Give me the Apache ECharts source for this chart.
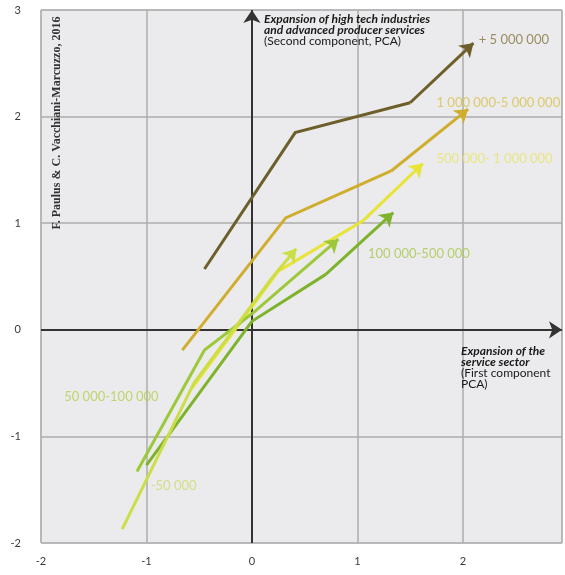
<!DOCTYPE html>
<html>
<head>
<meta charset="utf-8">
<script src="https://cdn.jsdelivr.net/npm/echarts@6/dist/echarts.min.js"></script>
<style>html,body{margin:0;padding:0;background:#fff}#c{width:565px;height:575px}</style>
</head>
<body>
<div id="c"></div>
<script>
// ---- data ----
const categories = ['+ 5 000 000', '1 000 000-5 000 000', '500 000- 1 000 000', '100 000-500 000', '50 000-100 000', '-50 000'];
const xTickLabels = ['-2', '-1', '0', '1', '2'];
const yTickLabels = ['-2', '-1', '0', '1', '2', '3'];
const pathAbove5M = [[-0.45, 0.57], [0.41, 1.85], [1.50, 2.13], [2.10, 2.69]];
const path1Mto5M = [[-0.66, -0.19], [0.32, 1.05], [1.32, 1.49], [2.05, 2.07]];
const path500kto1M = [[-0.57, -0.55], [0.25, 0.55], [1.05, 1.02], [1.62, 1.56]];
const path100kto500k = [[-1.00, -1.27], [0.00, 0.08], [0.70, 0.52], [1.34, 1.10]];
const path50kto100k = [[-1.09, -1.33], [-0.45, -0.19], [0.00, 0.15], [0.82, 0.85]];
const pathBelow50k = [[-1.23, -1.87], [-0.55, -0.50], [0.20, 0.50], [0.42, 0.76]];
const paths = [pathAbove5M, path1Mto5M, path500kto1M, path100kto500k, path50kto100k, pathBelow50k];

// ---- styles / layout ----
const lineColors = ['#6E5F2A', '#CFAE2E', '#E8E436', '#7FB32E', '#9CC83A', '#CCDE46'];
const labelColors = ['#85763C', '#D8C048', '#E9E46A', '#A8C84A', '#B4CF4A', '#D0DA6A'];
const labelAnchors = [[2.15, 2.72], [1.75, 2.13], [1.75, 1.60], [1.10, 0.71], [-1.78, -0.63], [-0.96, -1.46]];

const chart = echarts.init(document.getElementById('c'));
const series = [];
series.push({
  type: 'lines', coordinateSystem: 'cartesian2d', z: 2,
  symbol: ['none', 'arrow'], symbolSize: 13, silent: true,
  lineStyle: { color: '#333', width: 2, opacity: 1 },
  data: [{ coords: [[0, -2], [0, 3]] }, { coords: [[-2, 0], [2.94, 0]] }]
});
paths.forEach((p, i) => {
  series.push({
    name: categories[i], type: 'lines', coordinateSystem: 'cartesian2d', polyline: true, z: 3,
    symbol: 'none', silent: true,
    lineStyle: { color: lineColors[i], width: 3, opacity: 1, join: 'miter' },
    data: [{ coords: p.slice(0, p.length - 1) }]
  });
  series.push({
    type: 'lines', coordinateSystem: 'cartesian2d', z: 3,
    symbol: ['none', 'arrow'], symbolSize: 13, silent: true,
    lineStyle: { color: lineColors[i], width: 3, opacity: 1 },
    data: [{ coords: p.slice(p.length - 2) }]
  });
});
series.push({
  type: 'scatter', symbolSize: 0, z: 4, silent: true,
  data: categories.map((c, i) => ({ value: labelAnchors[i], name: c,
    label: { show: true, position: 'right', distance: 0, formatter: c, color: labelColors[i],
      fontFamily: 'Lato', fontSize: 13 } }))
});

const tickFmt = list => v => (list.indexOf(String(v)) >= 0 ? String(v) : '');

chart.setOption({
  animation: false,
  grid: { left: 41, top: 10, width: 524, height: 533, show: true, backgroundColor: '#EBEBED', borderColor: '#C4C4C4', borderWidth: 1 },
  xAxis: {
    type: 'value', min: -2, max: 2.94, interval: 1,
    axisLine: { show: false }, axisTick: { show: false },
    axisLabel: { margin: 13, color: '#3A3A3A', fontFamily: 'Lato', fontSize: 11, formatter: tickFmt(xTickLabels) },
    splitLine: { show: true, lineStyle: { color: '#ACACAC', width: 1.5 } }
  },
  yAxis: {
    type: 'value', min: -2, max: 3, interval: 1,
    axisLine: { show: false }, axisTick: { show: false },
    axisLabel: { margin: 20, color: '#3A3A3A', fontFamily: 'Lato', fontSize: 11, formatter: tickFmt(yTickLabels) },
    splitLine: { show: true, lineStyle: { color: '#ACACAC', width: 1.5 } }
  },
  graphic: [
    { type: 'text', left: 264, top: 13, z: 10, style: {
      text: '{b|Expansion of high tech industries}\n{b|and advanced producer services}\n{r|(Second component, PCA)}',
      rich: { b: { fontFamily: 'Lato', fontWeight: 'bold', fontStyle: 'italic', fontSize: 12, lineHeight: 11, fill: '#1A1A1A' },
              r: { fontFamily: 'Lato', fontSize: 12, lineHeight: 11, fill: '#1A1A1A' } } } },
    { type: 'text', left: 461, top: 345, z: 10, style: {
      text: '{b|Expansion of the}\n{b|service sector}\n{r|(First component}\n{r|PCA)}',
      rich: { b: { fontFamily: 'Lato', fontWeight: 'bold', fontStyle: 'italic', fontSize: 12, lineHeight: 11, fill: '#1A1A1A' },
              r: { fontFamily: 'Lato', fontSize: 12, lineHeight: 11, fill: '#1A1A1A' } } } },
    { type: 'text', x: 57, y: 123, rotation: Math.PI / 2, z: 10, style: {
      text: 'F. Paulus & C. Vacchiani-Marcuzzo, 2016', fontFamily: 'Liberation Serif', fontWeight: 'bold',
      fontSize: 12, fill: '#333', align: 'center', verticalAlign: 'middle' } }
  ],
  series: series
});
</script>
</body>
</html>
